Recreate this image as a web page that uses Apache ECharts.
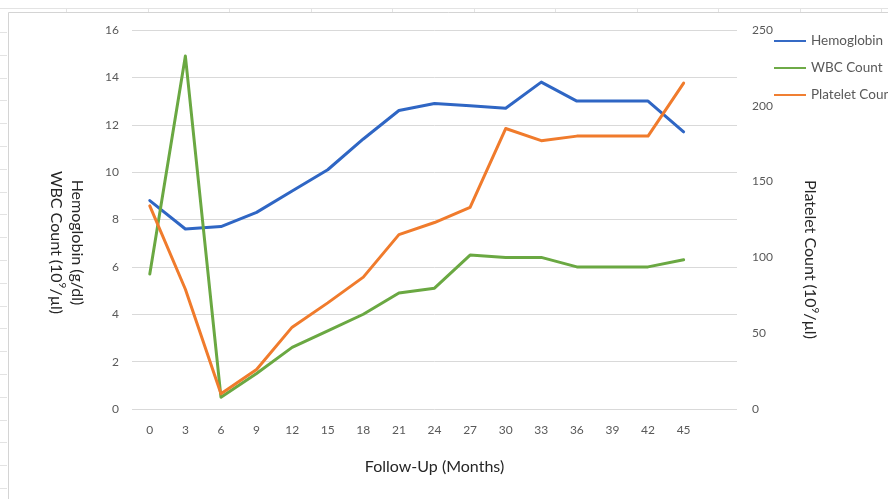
<!DOCTYPE html>
<html>
<head>
<meta charset="utf-8">
<script src="https://cdn.jsdelivr.net/npm/echarts@6/dist/echarts.min.js"></script>
<style>
  html, body { margin: 0; padding: 0; background: #ffffff; }
  #chart { width: 888px; height: 499px; }
</style>
</head>
<body>
<div id="chart"></div>
<script>
// Follow-up months (last slot left blank as in the sheet's axis)
const months = ['0', '3', '6', '9', '12', '15', '18', '21', '24', '27', '30', '33', '36', '39', '42', '45', ''];

// Hemoglobin, g/dl (left axis)
const hemoglobin = [8.8, 7.6, 7.7, 8.3, 9.2, 10.1, 11.4, 12.6, 12.9, 12.8, 12.7, 13.8, 13.0, 13.0, 13.0, 11.7];
// WBC count, 10^9/µl (left axis)
const wbcCount = [5.7, 14.9, 0.5, 1.5, 2.6, 3.3, 4.0, 4.9, 5.1, 6.5, 6.4, 6.4, 6.0, 6.0, 6.0, 6.3];
// Platelet count, 10^9/µl (right axis)
const plateletCount = [134, 79, 10, 26, 54, 70, 87, 115, 123, 133, 185, 177, 180, 180, 180, 215];

const FONT = 'Lato, "Liberation Sans", sans-serif';
const tickColor = '#595959';
const titleColor = '#262626';

const chart = echarts.init(document.getElementById('chart'), null, { renderer: 'canvas' });

// light spreadsheet frame around the chart object
const gridStroke = { stroke: '#e3e3e3', lineWidth: 1 };
const frame = [
  { type: 'line', shape: { x1: 0, y1: 8.5, x2: 888, y2: 8.5 }, style: gridStroke, silent: true },
  { type: 'line', shape: { x1: 8.5, y1: 12.5, x2: 888, y2: 12.5 }, style: { stroke: '#d4d4d4', lineWidth: 1 }, silent: true },
  { type: 'line', shape: { x1: 8.5, y1: 12.5, x2: 8.5, y2: 499 }, style: { stroke: '#d4d4d4', lineWidth: 1 }, silent: true }
];
for (let y = 32; y < 499; y += 22.8) {
  frame.push({ type: 'line', shape: { x1: 0, y1: Math.round(y) + 0.5, x2: 7, y2: Math.round(y) + 0.5 },
    style: gridStroke, silent: true });
}
for (let x = 66; x < 888; x += 81.5) {
  frame.push({ type: 'line', shape: { x1: Math.round(x) + 0.5, y1: 8, x2: Math.round(x) + 0.5, y2: 12 },
    style: gridStroke, silent: true });
}

// axis-title text with a raised exponent
const titleRich = (lh) => ({
  t: { color: titleColor, fontSize: 16, lineHeight: lh, fontFamily: FONT },
  sup: { color: titleColor, fontSize: 10, lineHeight: lh, fontFamily: FONT, verticalAlign: 'top', padding: [0, 0, 7, 0] }
});

chart.setOption({
  animation: false,
  backgroundColor: '#ffffff',
  textStyle: { fontFamily: FONT },
  graphic: frame,
  grid: { left: 132, right: 151, top: 30, bottom: 90, containLabel: false },
  legend: {
    orient: 'vertical',
    left: 774,
    top: 34,
    padding: 0,
    itemWidth: 32,
    itemHeight: 14,
    itemGap: 13,
    icon: 'path://M0,6 L33,6 L33,8 L0,8 Z',
    textStyle: { color: tickColor, fontSize: 13.5, lineHeight: 14, fontFamily: FONT },
    data: ['Hemoglobin', 'WBC Count', 'Platelet Count']
  },
  xAxis: {
    type: 'category',
    data: months,
    boundaryGap: true,
    name: 'Follow-Up (Months)',
    nameLocation: 'middle',
    nameGap: 50,
    nameTextStyle: { color: titleColor, fontSize: 16, fontFamily: FONT },
    axisLine: { show: false },
    axisTick: { show: false },
    axisLabel: { color: tickColor, fontSize: 12, margin: 15, interval: 0 }
  },
  yAxis: [
    {
      type: 'value',
      min: 0, max: 16, interval: 2,
      name: '{t|Hemoglobin (g/dl)}\n{t|WBC Count (10}{sup|9}{t|/\u00b5l)}',
      nameLocation: 'middle',
      nameRotate: -90,
      nameGap: 44,
      nameTextStyle: { color: titleColor, fontSize: 16, lineHeight: 21, fontFamily: FONT,
        padding: [0, 0, 0, 46], rich: titleRich(21) },
      axisLine: { show: false },
      axisTick: { show: false },
      axisLabel: { color: tickColor, fontSize: 12, margin: 13 },
      splitLine: { lineStyle: { color: '#d9d9d9', width: 1 } }
    },
    {
      type: 'value',
      min: 0, max: 250, interval: 50,
      position: 'right',
      name: '{t|Platelet Count (10}{sup|9}{t|/\u00b5l)}',
      nameLocation: 'middle',
      nameRotate: -90,
      nameGap: 63,
      nameTextStyle: { color: titleColor, fontSize: 16, lineHeight: 20, fontFamily: FONT,
        padding: [0, 0, 0, 80], rich: titleRich(20) },
      axisLine: { show: false },
      axisTick: { show: false },
      axisLabel: { color: tickColor, fontSize: 12, margin: 15 },
      splitLine: { show: false }
    }
  ],
  series: [
    {
      name: 'Hemoglobin', type: 'line', yAxisIndex: 0, data: hemoglobin,
      symbol: 'none', color: '#2f66c4',
      lineStyle: { width: 3, color: '#2f66c4', cap: 'round', join: 'round' }
    },
    {
      name: 'WBC Count', type: 'line', yAxisIndex: 0, data: wbcCount,
      symbol: 'none', color: '#6aa842',
      lineStyle: { width: 3, color: '#6aa842', cap: 'round', join: 'round' }
    },
    {
      name: 'Platelet Count', type: 'line', yAxisIndex: 1, data: plateletCount,
      symbol: 'none', color: '#f07b2c',
      lineStyle: { width: 3, color: '#f07b2c', cap: 'round', join: 'round' }
    }
  ]
});
</script>
</body>
</html>
